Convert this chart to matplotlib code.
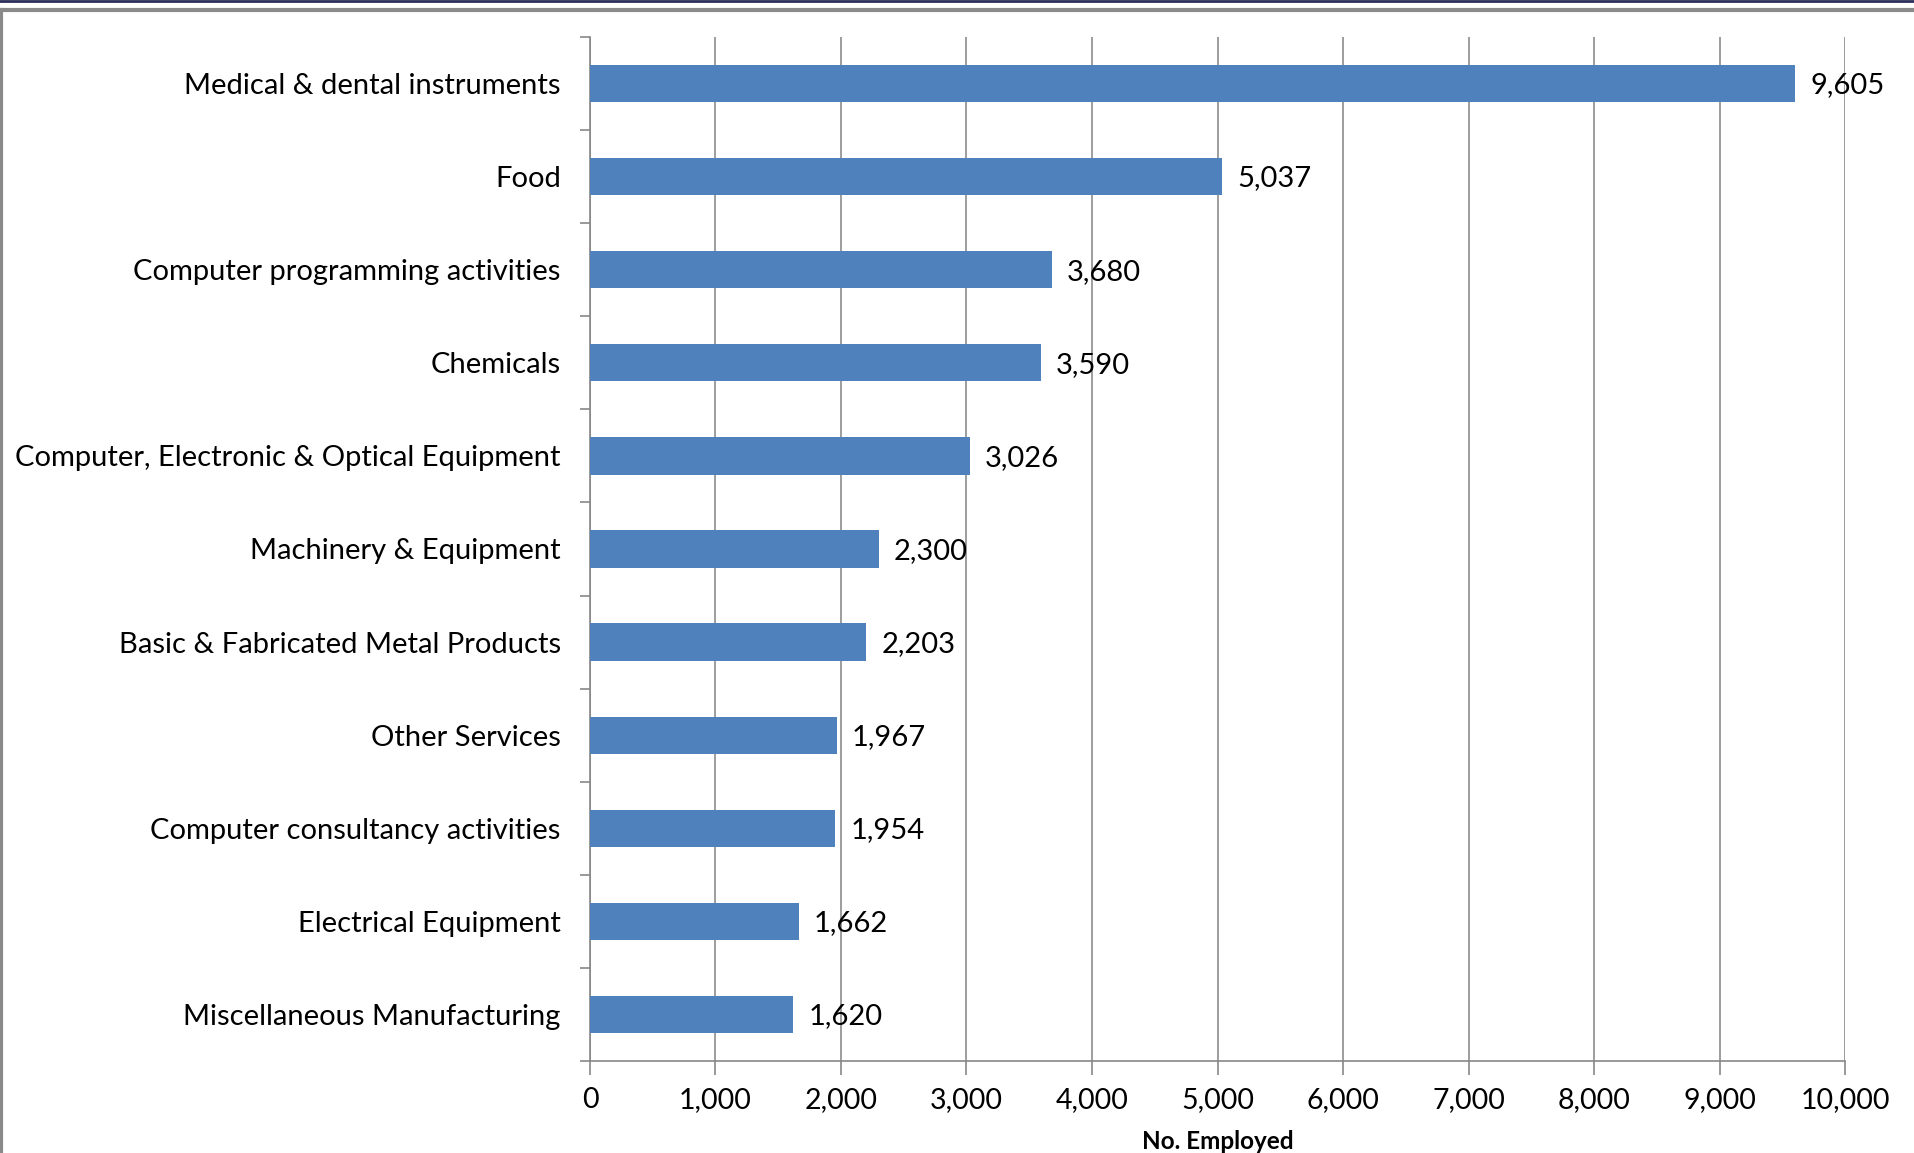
import matplotlib.pyplot as plt
from matplotlib.lines import Line2D
from matplotlib.ticker import FuncFormatter
import numpy as np

plt.rcParams['font.family'] = ['Lato', 'DejaVu Sans']

# data
sectors = [
    "Medical & dental instruments",
    "Food",
    "Computer programming activities",
    "Chemicals",
    "Computer, Electronic & Optical Equipment",
    "Machinery & Equipment",
    "Basic & Fabricated Metal Products",
    "Other Services",
    "Computer consultancy activities",
    "Electrical Equipment",
    "Miscellaneous Manufacturing",
]
employed = [9605, 5037, 3680, 3590, 3026, 2300, 2203, 1967, 1954, 1662, 1620]
x_ticks = [0, 1000, 2000, 3000, 4000, 5000, 6000, 7000, 8000, 9000, 10000]

fig = plt.figure(figsize=(19.15, 11.53), dpi=100)
ax = fig.add_axes([590 / 1915, 1 - 1061 / 1153, 1255 / 1915, 1024 / 1153])

y = np.arange(len(sectors))
ax.barh(y, employed, height=0.4, color='#4F81BD', zorder=3)
ax.set_ylim(len(sectors) - 0.5, -0.5)
ax.set_xlim(0, 10000)

# bar value labels
for yi, v in zip(y, employed):
    ax.text(v + 120, yi + 0.02, f"{v:,}", va='center', ha='left', fontsize=21, zorder=4)

ax.set_yticks(y)
ax.set_yticklabels(sectors, fontsize=21)
ax.set_yticks(np.arange(len(sectors) + 1) - 0.5, minor=True)
ax.tick_params(axis='y', which='major', length=0, pad=21)
ax.tick_params(axis='y', which='minor', length=7, color='#888888', width=1.2)

ax.set_xticks(x_ticks)
ax.xaxis.set_major_formatter(FuncFormatter(lambda v, p: f"{int(v):,}"))
ax.tick_params(axis='x', length=10, color='#888888', width=1.2, labelsize=20.5, pad=9)
ax.grid(axis='x', color='#8c8c8c', linewidth=1.2, zorder=0)

for s in ['top', 'right']:
    ax.spines[s].set_visible(False)
ax.spines['left'].set_color('#888888')
ax.spines['bottom'].set_color('#888888')
ax.spines['left'].set_linewidth(1.2)
ax.spines['bottom'].set_linewidth(1.2)

ax.set_xlabel("No. Employed", fontsize=17.5, fontweight='bold', labelpad=12)

# outer frame of the source picture
fig.add_artist(Line2D([0, 1], [1 - 1 / 1153, 1 - 1 / 1153], color='#2b2f5a', linewidth=2))
fig.add_artist(Line2D([0, 1], [1 - 9.5 / 1153, 1 - 9.5 / 1153], color='#8a8a8a', linewidth=3))
fig.add_artist(Line2D([1.5 / 1915, 1.5 / 1915], [0, 1 - 9.5 / 1153], color='#8a8a8a', linewidth=3))

fig.savefig('out.png', dpi=100)
